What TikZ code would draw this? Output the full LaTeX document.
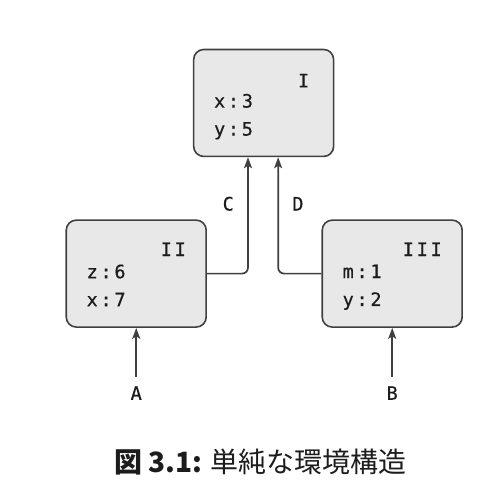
\documentclass[tikz,border=0pt]{standalone}
\usepackage{fontspec}
\newfontfamily\monofont[LetterSpace=15, FakeBold=0.6]{DejaVu Sans Mono}
\newfontfamily\jpfont{Noto Sans CJK JP}
\usetikzlibrary{arrows.meta, positioning}
\definecolor{boxfill}{RGB}{232,232,232}
\definecolor{boxedge}{RGB}{64,64,64}
\definecolor{linkgray}{RGB}{64,64,64}
\definecolor{ink}{RGB}{28,28,28}

\begin{document}
\begin{tikzpicture}[
  envbox/.style={draw=boxedge, fill=boxfill, line width=1.6pt, rounded corners=10pt, minimum width=4.92cm, minimum height=3.76cm},
  envname/.style={anchor=north east, inner sep=0pt, text=ink, font=\monofont\fontsize{18.5}{28}\selectfont},
  envvars/.style={anchor=north west, inner sep=0pt, align=left, text=ink, font=\monofont\fontsize{18.5}{28}\selectfont},
  sig/.style={text=ink, font=\monofont\fontsize{18.5}{28}\selectfont},
  link/.style={-{Stealth[length=11pt, width=8pt, inset=2.5pt]}, line width=1.7pt, draw=linkgray, rounded corners=6pt}
]
  \useasboundingbox (-9.27,3.62) rectangle (7.86,-13.96);

  % Environments
  \node[envbox] (I) at (0,0) {};
  \node[envbox] (II) at (-4.48,-6) {};
  \node[envbox] (III) at (4.52,-6) {};

  % Names and bindings
  \node[envname] (Iname) at ([xshift=-25pt, yshift=-25pt]I.north east) {I};
  \node[envvars] (Ivars) at ([xshift=21pt, yshift=-45pt]I.north west) {x:3\\y:5};
  \node[envname] (IIname) at ([xshift=-21pt, yshift=-23pt]II.north east) {II};
  \node[envvars] (IIvars) at ([xshift=21pt, yshift=-45pt]II.north west) {z:6\\x:7};
  \node[envname] (IIIname) at ([xshift=-21pt, yshift=-23pt]III.north east) {III};
  \node[envvars] (IIIvars) at ([xshift=21pt, yshift=-45pt]III.north west) {m:1\\y:2};

  % Inputs
  \node[sig, below=1.93cm of II] (A) {A};
  \node[sig, below=1.93cm of III] (B) {B};
  \draw[link, shorten <=6pt] (A) -- (II);
  \draw[link, shorten <=6pt] (B) -- (III);

  % Parent links
  \draw[link] (II.east) -| ([xshift=-0.55cm]I.south) node[sig, pos=0.8, left=10pt] (C) {C};
  \draw[link] (III.west) -| ([xshift=0.51cm]I.south) node[sig, pos=0.8, right=10pt] (D) {D};

  % Caption
  \node[font=\jpfont\fontsize{28}{34}\selectfont, text=ink] (caption) at (-0.12,-12.62) {\textbf{図 3.1:} 単純な環境構造};
\end{tikzpicture}
\end{document}
